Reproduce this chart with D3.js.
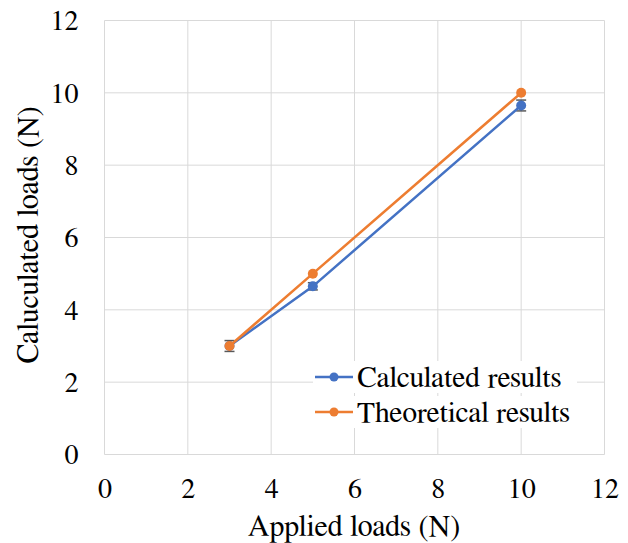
<!DOCTYPE html>
<html><head><meta charset="utf-8">
<script src="https://cdn.jsdelivr.net/npm/d3@7/dist/d3.min.js"></script>
<style>body{margin:0;background:#fff}svg{display:block}</style>
</head><body><svg id="c" width="628" height="543"></svg>
<script>
const appliedLoads = [3, 5, 10];
const calculatedLoads = [3.0, 4.65, 9.65];
const calculatedErr = [0.15, 0.1, 0.15];
const theoreticalLoads = [3, 5, 10];
const xTicks = [0, 2, 4, 6, 8, 10, 12];
const yTicks = [0, 2, 4, 6, 8, 10, 12];
const seriesNames = ["Calculated results", "Theoretical results"];
const colors = ["#4472C4", "#ED7D31"];
const FONT = "FreeSerif, Liberation Serif, serif";

const svg = d3.select("#c");
const x = d3.scaleLinear().domain([0, 12]).range([104.5, 604.5]);
const y = d3.scaleLinear().domain([0, 12]).range([454.5, 20.5]);

// grid
svg.append("g").selectAll("line").data(xTicks).join("line")
  .attr("x1", d => x(d)).attr("x2", d => x(d)).attr("y1", y(0)).attr("y2", y(12))
  .attr("stroke", "#D9D9D9").attr("stroke-width", 1);
svg.append("g").selectAll("line").data(yTicks).join("line")
  .attr("y1", d => y(d)).attr("y2", d => y(d)).attr("x1", x(0)).attr("x2", x(12))
  .attr("stroke", "#D9D9D9").attr("stroke-width", 1);

// tick labels
const xAxis = d3.axisBottom(x).tickValues(xTicks).tickSize(0).tickPadding(0);
const gx = svg.append("g").attr("transform", `translate(0,${y(0)})`).call(xAxis)
  .attr("font-family", FONT).attr("font-size", 28);
gx.select(".domain").remove();
gx.selectAll("text").attr("dy", 0).attr("y", 43.5).attr("fill", "#000");

const yAxis = d3.axisLeft(y).tickValues(yTicks).tickSize(0).tickPadding(0);
const gy = svg.append("g").attr("transform", `translate(${x(0)},0)`).call(yAxis)
  .attr("font-family", FONT).attr("font-size", 28);
gy.select(".domain").remove();
gy.selectAll("text").attr("x", -26).attr("dy", "0.33em").attr("fill", "#000");

// titles
svg.append("text").attr("x", 354).attr("y", 535.5).attr("text-anchor", "middle")
  .attr("font-family", FONT).attr("font-size", 30).text("Applied loads (N)");
svg.append("text").attr("transform", "translate(38,235) rotate(-90)").attr("text-anchor", "middle")
  .attr("font-family", FONT).attr("font-size", 30).text("Caluculated loads (N)");

const line = d3.line().x(d => x(d[0])).y(d => y(d[1]));

const calc = appliedLoads.map((a, i) => [a, calculatedLoads[i], calculatedErr[i]]);
const theo = appliedLoads.map((a, i) => [a, theoreticalLoads[i]]);

// error bars
const eb = svg.append("g").attr("stroke", "#595959").attr("stroke-width", 1.5);
calc.forEach(d => {
  eb.append("line").attr("x1", x(d[0])).attr("x2", x(d[0])).attr("y1", y(d[1] - d[2])).attr("y2", y(d[1] + d[2]));
  [d[1] - d[2], d[1] + d[2]].forEach(v => eb.append("line").attr("x1", x(d[0]) - 5).attr("x2", x(d[0]) + 5).attr("y1", y(v)).attr("y2", y(v)));
});

svg.append("path").datum(calc).attr("d", line).attr("fill", "none").attr("stroke", colors[0]).attr("stroke-width", 2.5);
svg.append("g").selectAll("circle").data(calc).join("circle")
  .attr("cx", d => x(d[0])).attr("cy", d => y(d[1])).attr("r", 5).attr("fill", colors[0]);

svg.append("path").datum(theo).attr("d", line).attr("fill", "none").attr("stroke", colors[1]).attr("stroke-width", 2.5);
svg.append("g").selectAll("circle").data(theo).join("circle")
  .attr("cx", d => x(d[0])).attr("cy", d => y(d[1])).attr("r", 5).attr("fill", colors[1]);

// legend
const leg = svg.append("g").attr("transform", "translate(315,377)");
seriesNames.forEach((n, i) => {
  const g = leg.append("g").attr("transform", `translate(0,${i * 35})`);
  g.append("rect").attr("x", -2).attr("y", -16).attr("width", 264).attr("height", 32).attr("fill", "#fff");
  g.append("line").attr("x1", 0).attr("x2", 38).attr("y1", 0).attr("y2", 0).attr("stroke", colors[i]).attr("stroke-width", 2.5);
  g.append("circle").attr("cx", 19).attr("cy", 0).attr("r", 4.5).attr("fill", colors[i]);
  g.append("text").attr("x", 42).attr("y", 9.5)
    .attr("font-family", FONT).attr("font-size", 29.5).text(n);
});
</script></body></html>
